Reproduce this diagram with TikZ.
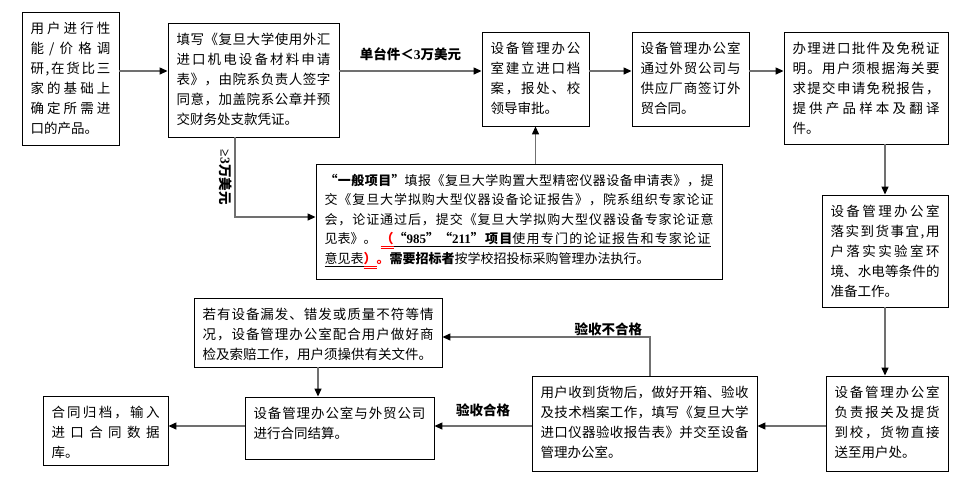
\documentclass[tikz,border=0pt]{standalone}
\usepackage{fontspec}
\setmainfont{Noto Sans CJK SC}
\newfontfamily\tnr{Liberation Serif}
\usetikzlibrary{arrows.meta,calc}
\XeTeXinterchartokenstate=1
\newcount\cjkcnt
\cjkcnt="3000 \loop\XeTeXcharclass\cjkcnt=1 \advance\cjkcnt 1 \ifnum\cjkcnt<"A000 \repeat
\cjkcnt="FF00 \loop\XeTeXcharclass\cjkcnt=1 \advance\cjkcnt 1 \ifnum\cjkcnt<"FFF0 \repeat
\XeTeXinterchartoks 1 1 = {\hskip 0pt plus 0.5pt\relax}
\XeTeXinterchartoks 0 1 = {\hskip 0pt plus 0.5pt\relax}
\XeTeXinterchartoks 1 0 = {\hskip 0pt plus 0.5pt\relax}
\definecolor{ln}{RGB}{112,112,112}
\tikzset{
  box/.style={draw=black, line width=0.9pt, inner sep=0pt, font=\fontsize{13.5}{20}\selectfont},
  arr/.style={draw=ln, line width=1.3pt, -{Triangle[length=8pt,width=7pt,color=black]}},
  lbl/.style={inner sep=0pt, font=\fontsize{13.5}{16}\selectfont\bfseries, text=black}
}
\newcommand\bx[6]{\node[box,minimum width={(#4-#2)*1pt},minimum height={(#5-#3)*1pt}] (#1) at ({(#2+#4)/2},{(#3+#5)/2}) {\parbox[c][\dimexpr #5pt-#3pt-20pt\relax][t]{\dimexpr #4pt-#2pt-17pt\relax}{#6}};}
\newcommand\redpar[1]{\textcolor{red}{\underline{\underline{\textbf{#1}}}}}
\begin{document}
\begin{tikzpicture}[x=1pt,y=-1pt]
\useasboundingbox (0,0) rectangle (979,496);
\bx{b1}{22}{12}{119}{145}{用户进行性\linebreak 能/价格调\linebreak 研,在货比三\linebreak 家的基础上\linebreak 确定所需进\linebreak 口的产品。}
\bx{b2}{168}{23}{339}{137}{填写《复旦大学使用外汇\linebreak 进口机电设备材料申请\linebreak 表》，由院系负责人签字\linebreak 同意，加盖院系公章并预\linebreak 交财务处支款凭证。}
\bx{b3}{482}{32}{589}{126}{设备管理办公\linebreak 室建立进口档\linebreak 案，报处、校\linebreak 领导审批。}
\bx{b4}{632}{32}{749}{126}{设备管理办公室\linebreak 通过外贸公司与\linebreak 供应厂商签订外\linebreak 贸合同。}
\bx{b5}{784}{32}{948}{144}{办理进口批件及免税证\linebreak 明。用户须根据海关要\linebreak 求提交申请免税报告，\linebreak 提供产品样本及翻译\linebreak 件。}
\bx{b6}{316}{164}{722}{279}{\fontsize{13}{19.5}\selectfont\textbf{“一般项目”}填报《复旦大学购置大型精密仪器设备申请表》，提\linebreak 交《复旦大学拟购大型仪器设备论证报告》，院系组织专家论证\linebreak 会，论证通过后，提交《复旦大学拟购大型仪器设备专家论证意\linebreak 见表》。\hspace{4pt}\redpar{（}\underline{\makebox[\dimexpr\linewidth-5em-7pt\relax][s]{\textbf{“{\tnr 985}”“{\tnr 211}”项目}使用专门的论证报告和专家论证}}\newline \underline{意见表}\redpar{）}\textcolor{red}{\textbf{。}}\textbf{需要招标者}按学校招投标采购管理办法执行。}
\bx{b7}{822}{195}{948}{307}{设备管理办公室\linebreak 落实到货事宜,用\linebreak 户落实实验室环\linebreak 境、水电等条件的\linebreak 准备工作。}
\bx{b8}{826}{376}{948}{471}{设备管理办公室\linebreak 负责报关及提货\linebreak 到校，货物直接\linebreak 送至用户处。}
\bx{b9}{532}{376}{757}{471}{用户收到货物后，做好开箱、验收\linebreak 及技术档案工作，填写《复旦大学\linebreak 进口仪器验收报告表》并交至设备\linebreak 管理办公室。}
\bx{b10}{194}{298}{442}{367}{若有设备漏发、错发或质量不符等情\linebreak 况，设备管理办公室配合用户做好商\linebreak 检及索赔工作，用户须操供有关文件。}
\bx{b11}{245}{397}{434}{459}{设备管理办公室与外贸公司\linebreak 进行合同结算。}
\bx{b12}{43}{396}{168}{465}{合同归档，输入\linebreak 进口合同数据\linebreak 库。}
\coordinate (row1) at (0,71);
\coordinate (row3) at (0,426);
\coordinate (ng) at (235,217);
\coordinate (nq) at (650,337);
\draw[arr] (b1.east |- row1) -- (b2.west |- row1);
\draw[arr] (b2.east |- row1) -- node[lbl, above=10pt]{单台件＜{\tnr 3}万美元} (b3.west |- row1);
\draw[arr] (b3.east |- row1) -- (b4.west |- row1);
\draw[arr] (b4.east |- row1) -- (b5.west |- row1);
\draw[arr] (b5.south -| b7.north) -- (b7.north);
\draw[arr] (b7.south) -- (b7.south |- b8.north);
\draw[arr] (b8.west |- row3) -- (b9.east |- row3);
\draw[arr] (b9.north -| nq) -- (nq) -- node[lbl, pos=0.2, above=1pt]{验收不合格} (nq -| b10.east);
\draw[arr] (b10.south) -- (b10.south |- b11.north);
\draw[arr] (b9.west |- row3) -- node[lbl, above=9pt]{验收合格} (b11.east |- row3);
\draw[arr] (b11.west |- row3) -- (b12.east |- row3);
\draw[arr] (b2.south -| ng) -- node[lbl, pos=0.5, anchor=north, rotate=-90, inner sep=2pt]{{\tnr ≥3}万美元} (ng) -- (ng -| b6.west);
\draw[arr] (b3.south |- b6.north) -- (b3.south);
\end{tikzpicture}
\end{document}
